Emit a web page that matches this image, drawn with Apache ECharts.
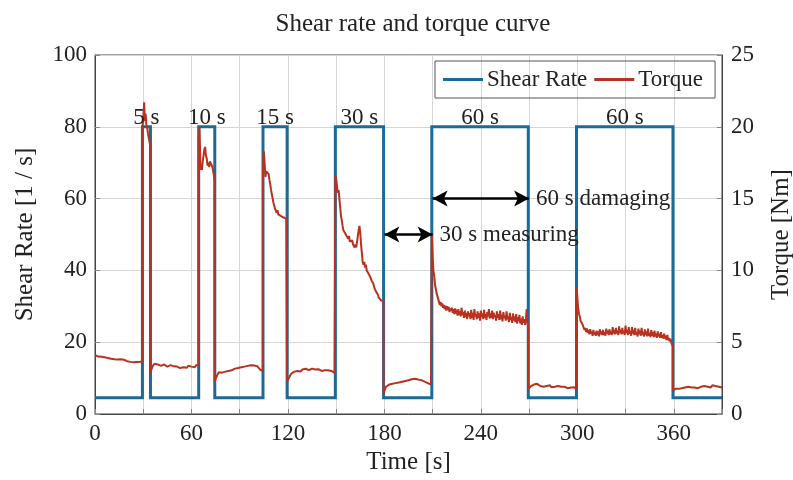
<!DOCTYPE html>
<html>
<head>
<meta charset="utf-8">
<script src="https://cdn.jsdelivr.net/npm/echarts@6/dist/echarts.min.js"></script>
<style>html,body{margin:0;padding:0;background:#fff}#c{width:793px;height:480px}</style>
</head>
<body>
<div id="c"></div>
<script>
// ---- data ----
const titleText = 'Shear rate and torque curve';
const xTickValues = [0, 60, 120, 180, 240, 300, 360];
// Shear rate step profile [time s, 1/s]
const shearTime = [0, 29.5, 29.5, 34.5, 34.5, 64.5, 64.5, 74.5, 74.5, 104.5, 104.5, 119.5, 119.5, 149.5, 149.5, 179.5, 179.5, 209.5, 209.5, 269.5, 269.5, 299.5, 299.5, 359.5, 359.5, 390];
const shearRate = [4.5, 4.5, 80, 80, 4.5, 4.5, 80, 80, 4.5, 4.5, 80, 80, 4.5, 4.5, 80, 80, 4.5, 4.5, 80, 80, 4.5, 4.5, 80, 80, 4.5, 4.5];
// Torque [time s, Nm]
const torque = [
[0,4.1],[0.5,4.2],[1,4.05],[2,4.0],[3,3.95],[4,3.98],[5,3.92],[6,3.95],[7,3.88],[8,3.9],[9,3.86],[10,3.85],[11,3.88],[12,3.82],[13,3.84],[14,3.8],[15,3.78],[16,3.82],[17,3.75],[18,3.78],[19,3.72],[20,3.68],[21,3.7],[22,3.63],[23,3.67],[24,3.6],[25,3.52],[26,3.62],[27,3.58],[28,3.64],[29,3.6],[29.5,3.66],
[29.5,19.8],[30,20.6],[30.6,21.7],[31,20.4],[31.5,20.9],[32,20.1],[32.5,19.9],[33,19.5],[33.5,19.2],[34,18.9],[34.5,18.6],
[34.5,2.8],[35,3.1],[36,3.35],[37,3.5],[38,3.4],[39,3.45],[40,3.5],[41,3.35],[42,3.42],[43,3.45],[44,3.36],[45,3.3],[46,3.36],[47,3.4],[48,3.28],[49,3.32],[50,3.25],[51,3.3],[52,3.36],[53,3.2],[54,3.28],[55,3.25],[56,3.3],[57,3.22],[58,3.36],[59,3.28],[60,3.3],[61,3.36],[62,3.26],[63,3.4],[64,3.34],[64.5,3.45],
[64.5,19.0],[65,20.0],[65.3,18.5],[65.6,17.0],[66,17.2],[66.5,17.0],[67,17.6],[67.5,18.0],[68,18.4],[68.5,18.6],[69,18.0],[69.5,17.8],[70,17.3],[70.5,17.5],[71,17.2],[71.5,17.6],[72,17.5],[72.5,17.6],[73,17.2],[73.5,16.9],[74,16.6],[74.5,16.2],
[74.5,2.25],[75,2.45],[76,2.7],[77,2.9],[78,2.95],[79,2.88],[80,3.0],[81,2.95],[82,3.05],[83,3.0],[84,3.1],[85,3.04],[86,3.1],[87,3.16],[88,3.1],[89,3.2],[90,3.15],[91,3.25],[92,3.2],[93,3.3],[94,3.24],[95,3.35],[96,3.3],[97,3.4],[98,3.34],[99,3.38],[100,3.4],[101,3.32],[102,3.2],[103,3.06],[104,2.95],[104.5,3.0],
[104.5,17.0],[105,18.3],[105.5,17.5],[106,16.5],[106.5,16.9],[107,17.0],[107.5,16.8],[108,16.7],[108.5,16.3],[109,16.0],[109.5,15.6],[110,15.3],[110.5,15.0],[111,14.7],[111.5,14.6],[112,14.3],[112.5,14.2],[113,14.0],[113.5,14.2],[114,13.9],[114.5,13.8],[115,14.0],[115.5,13.8],[116,13.9],[117,13.7],[118,13.8],[119,13.6],[119.5,13.6],
[119.5,2.25],[120,2.35],[121,2.6],[122,2.8],[123,2.86],[124,2.95],[125,2.9],[126,3.0],[127,3.05],[128,2.96],[129,3.1],[130,3.05],[131,3.15],[132,3.1],[133,3.05],[134,3.12],[135,3.16],[136,3.06],[137,3.1],[138,3.05],[139,3.12],[140,3.06],[141,3.0],[142,3.1],[143,3.05],[144,3.0],[145,3.05],[146,2.95],[147,3.0],[148,2.9],[149,2.86],[149.5,2.9],
[149.5,16.6],[150,16.4],[150.5,15.9],[151,15.4],[151.5,15.6],[152,15.0],[152.5,14.4],[153,13.8],[153.5,13.5],[154,13.1],[154.5,12.8],[155,12.9],[155.5,12.6],[156,12.7],[156.5,12.4],[157,12.5],[157.5,12.2],[158,12.4],[158.5,12.0],[159,12.1],[159.5,11.9],[160,12.1],[160.5,11.8],[161,11.9],[161.5,11.6],[162,11.8],[162.5,11.6],[163,12.0],[163.5,12.4],[164,12.8],[164.5,13.1],[165,12.6],[165.5,11.8],[166,11.2],[166.5,10.6],[167,10.4],[167.5,10.6],[168,10.2],[168.5,10.4],[169,10.0],[169.5,10.1],[170,9.8],[170.5,9.9],[171,9.6],[171.5,9.7],[172,9.3],[172.5,9.4],[173,9.1],[173.5,9.0],[174,8.7],[174.5,8.8],[175,8.5],[175.5,8.4],[176,8.3],[176.5,8.1],[177,8.2],[177.5,8.0],[178,7.9],[178.5,8.0],[179,7.8],[179.5,7.9],
[179.5,1.44],[180,1.6],[181,1.9],[182,2.0],[183,2.05],[184,1.96],[185,2.1],[186,2.05],[187,2.15],[188,2.1],[189,2.2],[190,2.1],[191,2.25],[192,2.2],[193,2.3],[194,2.22],[195,2.35],[196,2.3],[197,2.42],[198,2.36],[199,2.46],[200,2.5],[201,2.4],[202,2.46],[203,2.36],[204,2.3],[205,2.25],[206,2.2],[207,2.15],[208,2.1],[209,2.05],[209.5,2.1],
[209.5,12.4],[210,11.0],[210.5,10.0],[211,9.6],[211.5,9.0],[212,8.9],[212.5,8.4],[213,8.3],[213.5,8.0],
[214,7.9],[214.5,7.6],[215,7.8],[215.5,7.5],[216,7.7],[216.5,7.4],[217,7.6],[217.5,7.3],[218,7.55],[218.5,7.2],[219,7.5],[219.5,7.25],[220,7.45],[220.5,7.1],[221,7.35],[221.5,7.2],[222,7.4],[222.5,7.05],[223,7.3],[223.5,6.95],[224,7.35],[224.5,7.0],[225,7.25],[225.5,6.85],[226,7.3],[226.5,6.9],[227,7.15],[227.5,6.8],[228,7.4],[228.5,6.9],[229,7.1],[229.5,6.7],[230,7.2],[230.5,6.75],[231,7.05],[231.5,6.6],[232,7.15],[232.5,6.8],[233,7.0],[233.5,6.6],[234,7.25],[234.5,6.7],[235,7.05],[235.5,6.55],[236,7.3],[236.5,6.8],[237,6.95],[237.5,6.6],[238,7.15],[238.5,6.7],[239,7.0],[239.5,6.5],[240,7.2],[240.5,6.75],[241,7.0],[241.5,6.6],[242,7.25],[242.5,6.7],[243,6.95],[243.5,6.55],[244,7.1],[244.5,6.8],[245,7.3],[245.5,6.65],[246,7.0],[246.5,6.7],[247,7.2],[247.5,6.6],[248,7.05],[248.5,6.75],[249,6.9],[249.5,6.5],[250,7.15],[250.5,6.7],[251,6.95],[251.5,6.55],[252,7.2],[252.5,6.6],[253,6.9],[253.5,6.45],[254,7.1],[254.5,6.7],[255,6.85],[255.5,6.5],[256,7.15],[256.5,6.6],[257,6.8],[257.5,6.4],[258,7.05],[258.5,6.55],[259,6.75],[259.5,6.35],[260,7.0],[260.5,6.5],[261,6.8],[261.5,6.4],[262,6.95],[262.5,6.3],[263,6.75],[263.5,6.45],[264,6.9],[264.5,6.3],[265,6.65],[265.5,6.2],[266,6.8],[266.5,6.35],[267,6.6],[267.5,6.2],[268,6.5],[268.5,7.3],[269,6.4],[269.5,6.1],
[269.5,1.75],[270,1.8],[271,1.92],[272,2.0],[273,2.05],[274,1.95],[275,2.1],[276,2.0],[277,1.95],[278,2.05],[279,1.9],[280,2.0],[281,1.95],[282,1.9],[283,2.0],[284,1.86],[285,1.95],[286,1.9],[287,1.85],[288,1.95],[289,1.86],[290,1.9],[291,1.8],[292,1.9],[293,1.85],[294,1.8],[295,1.9],[296,1.85],[297,1.8],[298,1.86],[299,1.8],[299.5,1.75],
[299.5,8.8],[300,8.2],[300.5,7.4],[301,7.0],[301.5,6.8],[302,6.5],[302.5,6.4],[303,6.3],[303.5,6.15],
[304,6.1],[304.5,5.85],[305,6.0],[305.5,5.7],[306,5.95],[306.5,5.65],[307,5.85],[307.5,5.55],[308,5.9],[308.5,5.6],[309,5.75],[309.5,5.45],[310,5.85],[310.5,5.55],[311,5.7],[311.5,5.45],[312,5.8],[312.5,5.5],[313,5.75],[313.5,5.4],[314,5.9],[314.5,5.55],[315,5.75],[315.5,5.5],[316,5.85],[316.5,5.5],[317,5.7],[317.5,5.45],[318,5.95],[318.5,5.6],[319,5.8],[319.5,5.5],[320,5.9],[320.5,5.55],[321,5.75],[321.5,5.5],[322,6.05],[322.5,5.6],[323,5.85],[323.5,5.55],[324,6.0],[324.5,5.6],[325,5.8],[325.5,5.5],[326,6.1],[326.5,5.65],[327,5.85],[327.5,5.55],[328,6.0],[328.5,5.6],[329,5.8],[329.5,5.5],[330,6.15],[330.5,5.65],[331,5.85],[331.5,5.5],[332,6.05],[332.5,5.6],[333,5.75],[333.5,5.45],[334,6.05],[334.5,5.6],[335,5.85],[335.5,5.5],[336,6.0],[336.5,5.55],[337,5.7],[337.5,5.4],[338,5.95],[338.5,5.55],[339,5.8],[339.5,5.45],[340,6.0],[340.5,5.5],[341,5.7],[341.5,5.4],[342,5.9],[342.5,5.5],[343,5.75],[343.5,5.4],[344,5.95],[344.5,5.45],[345,5.65],[345.5,5.35],[346,5.85],[346.5,5.45],[347,5.7],[347.5,5.35],[348,5.8],[348.5,5.4],[349,5.6],[349.5,5.3],[350,5.75],[350.5,5.4],[351,5.6],[351.5,5.3],[352,5.7],[352.5,5.3],[353,5.5],[353.5,5.25],[354,5.6],[354.5,5.25],[355,5.45],[355.5,5.15],[356,5.5],[356.5,5.15],[357,5.3],[357.5,5.05],[358,5.25],[358.5,4.95],[359,5.0],[359.5,4.7],
[359.5,1.65],[360,1.7],[361,1.75],[362,1.8],[363,1.75],[364,1.85],[365,1.8],[366,1.75],[367,1.85],[368,1.8],[369,1.9],[370,1.8],[371,1.85],[372,1.75],[373,1.85],[374,1.9],[375,1.8],[376,1.85],[377,1.9],[378,1.85],[379,1.95],[380,1.85],[381,1.9],[382,1.95],[383,1.85],[384,2.0],[385,1.9],[386,1.95],[387,2.0],[388,1.9],[389,1.95],[390,1.85]
];
// Phase labels above the high-shear blocks
const blockLabels = ['5 s', '10 s', '15 s', '30 s', '60 s', '60 s'];
const blockCenters = [32, 69.5, 112, 164.5, 239.5, 329.5];
// Arrow annotations [start time, end time, shear-rate level, text]
const arrowStart = [180, 210];
const arrowEnd = [210, 270];
const arrowLevel = [50, 60];
const arrowText = ['30 s measuring', '60 s damaging'];

// ---- chart ----
const FONT = 'Liberation Serif';
const BLUE = '#1a6b9a';
const RED = '#b8321f';
const chart = echarts.init(document.getElementById('c'), null, {renderer: 'canvas'});
const shearData = shearTime.map((t, i) => [t, shearRate[i]]);

chart.setOption({
  animation: false,
  backgroundColor: '#fff',
  textStyle: {fontFamily: FONT, color: '#222'},
  title: {
    text: titleText, left: 408, top: 7, textAlign: 'center',
    textStyle: {fontFamily: FONT, fontSize: 25, fontWeight: 'normal', color: '#222'}
  },
  legend: {
    data: ['Shear Rate', 'Torque'],
    left: 435, top: 61,
    icon: 'rect', itemWidth: 40, itemHeight: 3, itemGap: 7,
    padding: [6, 12, 6, 8],
    borderColor: '#555', borderWidth: 1,
    textStyle: {fontFamily: FONT, fontSize: 23, color: '#222', lineHeight: 25, padding: [0, 0, 0, -1]}
  },
  grid: {left: 95, right: 71, top: 55, bottom: 66, containLabel: false, outerBoundsMode: 'none',
         show: true, borderColor: '#444', borderWidth: 1, backgroundColor: 'transparent'},
  xAxis: {
    type: 'value', min: 0, max: 390, interval: 30,
    name: 'Time [s]', nameLocation: 'middle', nameGap: 35,
    nameTextStyle: {fontFamily: FONT, fontSize: 25, color: '#222'},
    axisLine: {lineStyle: {color: '#444', width: 1}},
    axisTick: {inside: true, length: 5, lineStyle: {color: '#888'}},
    axisLabel: {
      fontFamily: FONT, fontSize: 23, color: '#222', margin: 8,
      formatter: v => xTickValues.indexOf(v) >= 0 ? String(v) : ''
    },
    splitLine: {show: true, lineStyle: {color: '#d6d6d6', width: 1}}
  },
  yAxis: [
    {
      type: 'value', min: 0, max: 100, interval: 20, position: 'left',
      name: 'Shear Rate [1 / s]', nameLocation: 'middle', nameGap: 57, nameRotate: 90,
      nameTextStyle: {fontFamily: FONT, fontSize: 25, color: '#222'},
      axisLine: {show: true, lineStyle: {color: '#444', width: 1}},
      axisTick: {show: true, inside: true, length: 5, lineStyle: {color: '#888'}},
      axisLabel: {fontFamily: FONT, fontSize: 23, color: '#222', margin: 8},
      splitLine: {show: true, lineStyle: {color: '#d6d6d6', width: 1}}
    },
    {
      type: 'value', min: 0, max: 25, interval: 5, position: 'right',
      name: 'Torque [Nm]', nameLocation: 'middle', nameGap: 47, nameRotate: 90,
      nameTextStyle: {fontFamily: FONT, fontSize: 25, color: '#222'},
      axisLine: {show: true, lineStyle: {color: '#444', width: 1}},
      axisTick: {show: true, inside: true, length: 5, lineStyle: {color: '#888'}},
      axisLabel: {fontFamily: FONT, fontSize: 23, color: '#222', margin: 9},
      splitLine: {show: false}
    }
  ],
  series: [
    {
      name: 'Shear Rate', type: 'line', yAxisIndex: 0, data: shearData,
      showSymbol: false, symbol: 'none',
      lineStyle: {color: BLUE, width: 3, join: 'miter'}, itemStyle: {color: BLUE},
      markPoint: {
        silent: true, symbol: 'circle', symbolSize: 0,
        label: {show: true, formatter: '{b}', position: 'inside', offset: [0, -9],
                fontFamily: FONT, fontSize: 23, color: '#222'},
        data: blockCenters.map((c, i) => ({name: blockLabels[i], coord: [c, 80]}))
      },
      markLine: {
        silent: true, symbol: ['arrow', 'arrow'], symbolSize: [12, 15],
        lineStyle: {color: '#000', width: 2.5, type: 'solid'},
        label: {show: true, position: 'end', distance: 7, formatter: '{b}',
                fontFamily: FONT, fontSize: 23, color: '#222'},
        data: arrowText.map((txt, i) => [
          {name: txt, coord: [arrowStart[i], arrowLevel[i]]},
          {coord: [arrowEnd[i], arrowLevel[i]]}
        ])
      }
    },
    {
      name: 'Torque', type: 'line', yAxisIndex: 1, data: torque,
      showSymbol: false, symbol: 'none',
      lineStyle: {color: RED, width: 2}, itemStyle: {color: RED}
    }
  ]
});
</script>
</body>
</html>
